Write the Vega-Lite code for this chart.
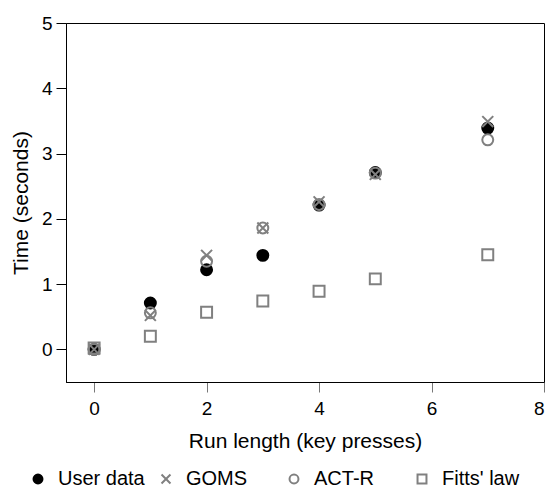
{
  "$schema": "https://vega.github.io/schema/vega-lite/v6.json",
  "autosize": "none",
  "width": 478,
  "height": 359,
  "padding": {"left": 66, "top": 23, "right": 6, "bottom": 113},
  "background": "white",
  "config": {
    "font": "Liberation Sans",
    "view": {"stroke": "black", "strokeWidth": 1},
    "axis": {"grid": false, "domainColor": "black", "labelColor": "black", "titleColor": "black", "labelFont": "Liberation Sans", "titleFont": "Liberation Sans", "labelFontSize": 19, "titleFontSize": 21, "titleFontWeight": "normal", "tickSize": 10}
  },
  "data": {
    "values": [
      {"series": "User data", "x": 0, "y": 0.0},
      {"series": "User data", "x": 1, "y": 0.71},
      {"series": "User data", "x": 2, "y": 1.22},
      {"series": "User data", "x": 3, "y": 1.44},
      {"series": "User data", "x": 4, "y": 2.21},
      {"series": "User data", "x": 5, "y": 2.71},
      {"series": "User data", "x": 7, "y": 3.39},
      {"series": "GOMS", "x": 0, "y": 0.0},
      {"series": "GOMS", "x": 1, "y": 0.52},
      {"series": "GOMS", "x": 2, "y": 1.44},
      {"series": "GOMS", "x": 3, "y": 1.86},
      {"series": "GOMS", "x": 4, "y": 2.26},
      {"series": "GOMS", "x": 5, "y": 2.68},
      {"series": "GOMS", "x": 7, "y": 3.49},
      {"series": "ACT-R", "x": 0, "y": 0.0},
      {"series": "ACT-R", "x": 1, "y": 0.56},
      {"series": "ACT-R", "x": 2, "y": 1.35},
      {"series": "ACT-R", "x": 3, "y": 1.86},
      {"series": "ACT-R", "x": 4, "y": 2.22},
      {"series": "ACT-R", "x": 5, "y": 2.7},
      {"series": "ACT-R", "x": 7, "y": 3.21},
      {"series": "Fitts' law", "x": 0, "y": 0.02},
      {"series": "Fitts' law", "x": 1, "y": 0.2},
      {"series": "Fitts' law", "x": 2, "y": 0.57},
      {"series": "Fitts' law", "x": 3, "y": 0.74},
      {"series": "Fitts' law", "x": 4, "y": 0.89},
      {"series": "Fitts' law", "x": 5, "y": 1.08},
      {"series": "Fitts' law", "x": 7, "y": 1.45}
    ]
  },
  "mark": {"type": "point", "size": 120, "strokeWidth": 2, "opacity": 1},
  "encoding": {
    "x": {"field": "x", "type": "quantitative", "scale": {"domain": [-0.5, 8], "nice": false, "zero": false},
      "axis": {"values": [0, 2, 4, 6, 8], "title": "Run length (key presses)", "tickColor": "#777", "labelPadding": 7, "titlePadding": 12}},
    "y": {"field": "y", "type": "quantitative", "scale": {"domain": [-0.5, 5], "nice": false, "zero": false},
      "axis": {"values": [0, 1, 2, 3, 4, 5], "title": "Time (seconds)", "tickColor": "black", "labelPadding": 4, "titlePadding": 10}},
    "shape": {"field": "series", "type": "nominal",
      "scale": {"domain": ["User data", "GOMS", "ACT-R", "Fitts' law"], "range": ["circle", "M-1,-1L1,1M-1,1L1,-1", "circle", "square"]},
      "legend": {"title": null, "orient": "none", "legendX": -38, "legendY": 446, "direction": "horizontal", "columns": 4, "gridAlign": "all", "columnPadding": 11, "labelFontSize": 20, "labelFont": "Liberation Sans", "labelColor": "black", "symbolSize": 80, "symbolStrokeWidth": 2, "labelOffset": 10}},
    "stroke": {"field": "series", "type": "nominal",
      "scale": {"domain": ["User data", "GOMS", "ACT-R", "Fitts' law"], "range": ["black", "#808080", "#808080", "#808080"]}},
    "fill": {"field": "series", "type": "nominal",
      "scale": {"domain": ["User data", "GOMS", "ACT-R", "Fitts' law"], "range": ["black", "transparent", "transparent", "transparent"]}}
  }
}
